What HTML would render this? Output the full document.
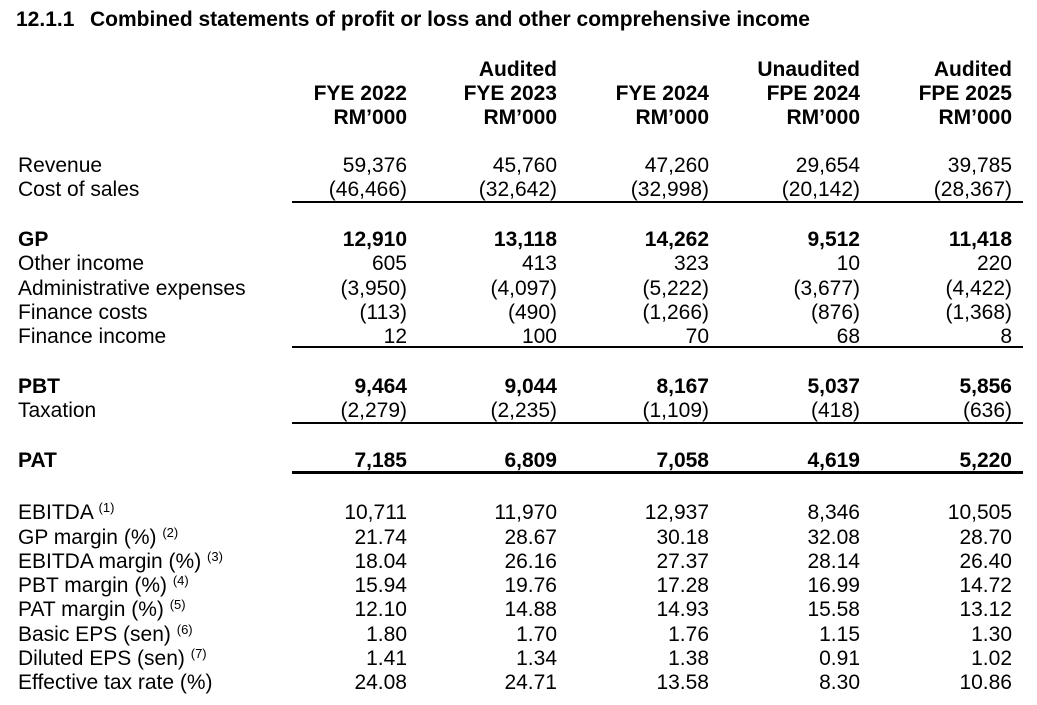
<!DOCTYPE html>
<html><head><meta charset="utf-8"><style>
body{margin:0;width:1037px;height:705px;background:#fff;position:relative;overflow:hidden;font-family:"Liberation Sans",Arial,sans-serif;color:#000;}
.t{position:absolute;font-size:21px;line-height:24px;white-space:nowrap;}
.n{text-align:right;width:160px;}
.b{font-weight:bold;}
sup{font-size:13px;vertical-align:0;position:relative;top:-7px;}
.ln{position:absolute;left:292px;width:731px;background:#000;}
</style></head><body>
<div class="t b" style="left:16px;top:8px">12.1.1</div>
<div class="t b" style="left:90px;top:8px">Combined statements of profit or loss and other comprehensive income</div>
<div id="tbl"></div>
<div class="ln" style="top:201px;height:2px"></div>
<div class="ln" style="top:346px;height:2px"></div>
<div class="ln" style="top:422px;height:2px"></div>
<div class="ln" style="top:471px;height:3px"></div>
<script>
const colRight=[407,557,709,860,1012];
const headers=[["","FYE 2022","RM’000"],["Audited","FYE 2023","RM’000"],["","FYE 2024","RM’000"],["Unaudited","FPE 2024","RM’000"],["Audited","FPE 2025","RM’000"]];
const rows=[
["Revenue","",165,false,["59,376","45,760","47,260","29,654","39,785"]],
["Cost of sales","",189,false,["(46,466)","(32,642)","(32,998)","(20,142)","(28,367)"]],
["GP","",239,true,["12,910","13,118","14,262","9,512","11,418"]],
["Other income","",263,false,["605","413","323","10","220"]],
["Administrative expenses","",288,false,["(3,950)","(4,097)","(5,222)","(3,677)","(4,422)"]],
["Finance costs","",312,false,["(113)","(490)","(1,266)","(876)","(1,368)"]],
["Finance income","",336,false,["12","100","70","68","8"]],
["PBT","",386,true,["9,464","9,044","8,167","5,037","5,856"]],
["Taxation","",410,false,["(2,279)","(2,235)","(1,109)","(418)","(636)"]],
["PAT","",460,true,["7,185","6,809","7,058","4,619","5,220"]],
["EBITDA","(1)",512,false,["10,711","11,970","12,937","8,346","10,505"]],
["GP margin (%)","(2)",537,false,["21.74","28.67","30.18","32.08","28.70"]],
["EBITDA margin (%)","(3)",561,false,["18.04","26.16","27.37","28.14","26.40"]],
["PBT margin (%)","(4)",585,false,["15.94","19.76","17.28","16.99","14.72"]],
["PAT margin (%)","(5)",609,false,["12.10","14.88","14.93","15.58","13.12"]],
["Basic EPS (sen)","(6)",634,false,["1.80","1.70","1.76","1.15","1.30"]],
["Diluted EPS (sen)","(7)",658,false,["1.41","1.34","1.38","0.91","1.02"]],
["Effective tax rate (%)","",682,false,["24.08","24.71","13.58","8.30","10.86"]]
];
const tbl=document.getElementById('tbl');
function mk(cls,left,top,html,name){
  const d=document.createElement('div');
  d.className='t '+cls;
  d.style.left=left+'px';d.style.top=(top-11)+'px';
  d.innerHTML=html;
  
  
  tbl.appendChild(d);
}
const hy=[69,93,117];
headers.forEach((h,c)=>{h.forEach((s,i)=>{if(s)mk('n b',colRight[c]-160,hy[i],s,'column-header');});});
rows.forEach(r=>{
  mk(r[3]?'b':'',18,r[2],r[0]+(r[1]?' <sup>'+r[1]+'</sup>':''),'row-label');
  r[4].forEach((v,c)=>mk('n'+(r[3]?' b':''),colRight[c]-160,r[2],v,'cell-value'));
});
</script>
</body></html>
